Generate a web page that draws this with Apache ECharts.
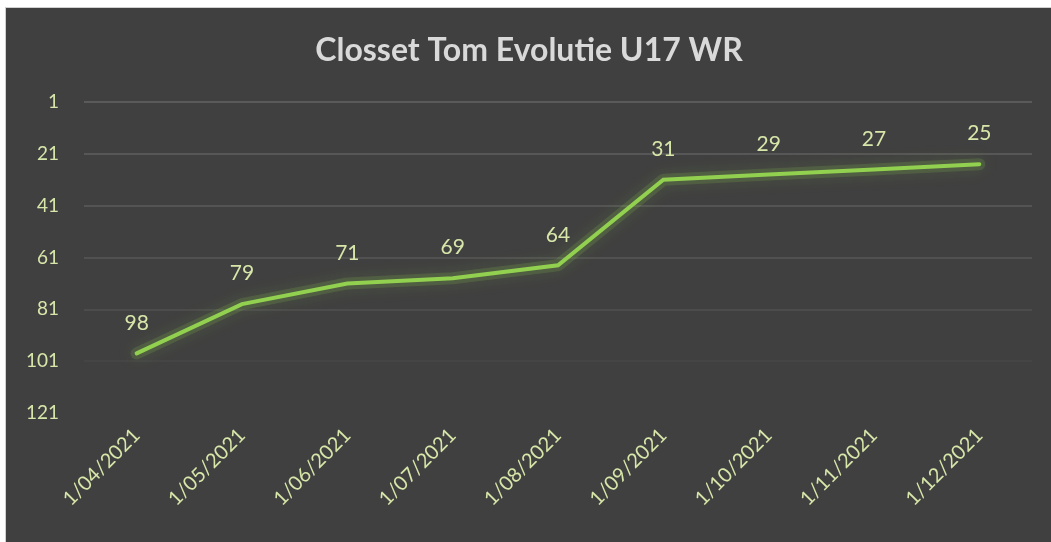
<!DOCTYPE html>
<html>
<head>
<meta charset="utf-8">
<script src="https://cdn.jsdelivr.net/npm/echarts@6/dist/echarts.min.js"></script>
<style>
  html, body { margin: 0; padding: 0; background: #ffffff; }
  #wrap {
    position: absolute; left: 5px; top: 7px;
    width: 1046px; height: 535px;
    border-left: 1px solid #d0d0d0; border-top: 1px solid #d0d0d0;
  }
  #chart { width: 1046px; height: 535px; }
</style>
</head>
<body>
<div id="wrap"><div id="chart"></div></div>
<script>
// rang op de wereldranglijst per maand
const dates = ["1/04/2021", "1/05/2021", "1/06/2021", "1/07/2021", "1/08/2021",
  "1/09/2021", "1/10/2021", "1/11/2021", "1/12/2021"];
const ranks = [98, 79, 71, 69, 64, 31, 29, 27, 25];
const rankMin = 1;
const rankMax = 121;
const rankStep = 20;

const labelColor = "#d7e6a9";
const fontFam = "'Lato', 'DejaVu Sans', sans-serif";

const chart = echarts.init(document.getElementById("chart"));
chart.setOption({
  backgroundColor: "#404040",
  animation: false,
  title: {
    text: "Closset Tom Evolutie U17 WR",
    left: "center",
    top: 22,
    textStyle: {
      color: "#d9d9d9",
      fontSize: 32,
      fontWeight: "bold",
      fontFamily: fontFam,
    },
  },
  grid: {
    left: 78,
    right: 20,
    top: 94,
    bottom: 130,
  },
  xAxis: {
    type: "category",
    data: dates,
    boundaryGap: true,
    axisLine: { show: false },
    axisTick: { show: false },
    axisLabel: {
      color: labelColor,
      fontSize: 20,
      fontFamily: fontFam,
      rotate: 45,
      margin: 19,
      interval: 0,
    },
  },
  yAxis: {
    type: "value",
    inverse: true,
    min: rankMin,
    max: rankMax,
    interval: rankStep,
    axisLine: { show: false },
    axisTick: { show: false },
    axisLabel: {
      color: labelColor,
      fontSize: 19,
      fontFamily: fontFam,
      margin: 25,
    },
    splitLine: {
      show: true,
      lineStyle: {
        width: 2,
        //  lijnen vervagen naar onder toe
        color: ["#5a5a5a", "#575757", "#545454", "#515151", "#4c4c4c", "#454545", "#404040"],
      },
    },
  },
  series: [
    {
      // gloed onder de lijn
      type: "line",
      data: ranks,
      symbol: "none",
      silent: true,
      lineStyle: {
        color: "rgba(146, 208, 80, 0.16)",
        width: 12,
        cap: "round",
        join: "round",
        shadowColor: "rgba(146, 208, 80, 0.8)",
        shadowBlur: 16,
      },
    },
    {
      type: "line",
      data: ranks,
      symbol: "circle",
      symbolSize: 2,
      itemStyle: { color: "#92d050" },
      lineStyle: {
        color: "#92d050",
        width: 4,
        cap: "round",
        join: "miter",
      },
      label: {
        show: true,
        position: "top",
        distance: 19,
        color: labelColor,
        fontSize: 21,
        fontFamily: fontFam,
      },
    },
  ],
});
</script>
</body>
</html>
